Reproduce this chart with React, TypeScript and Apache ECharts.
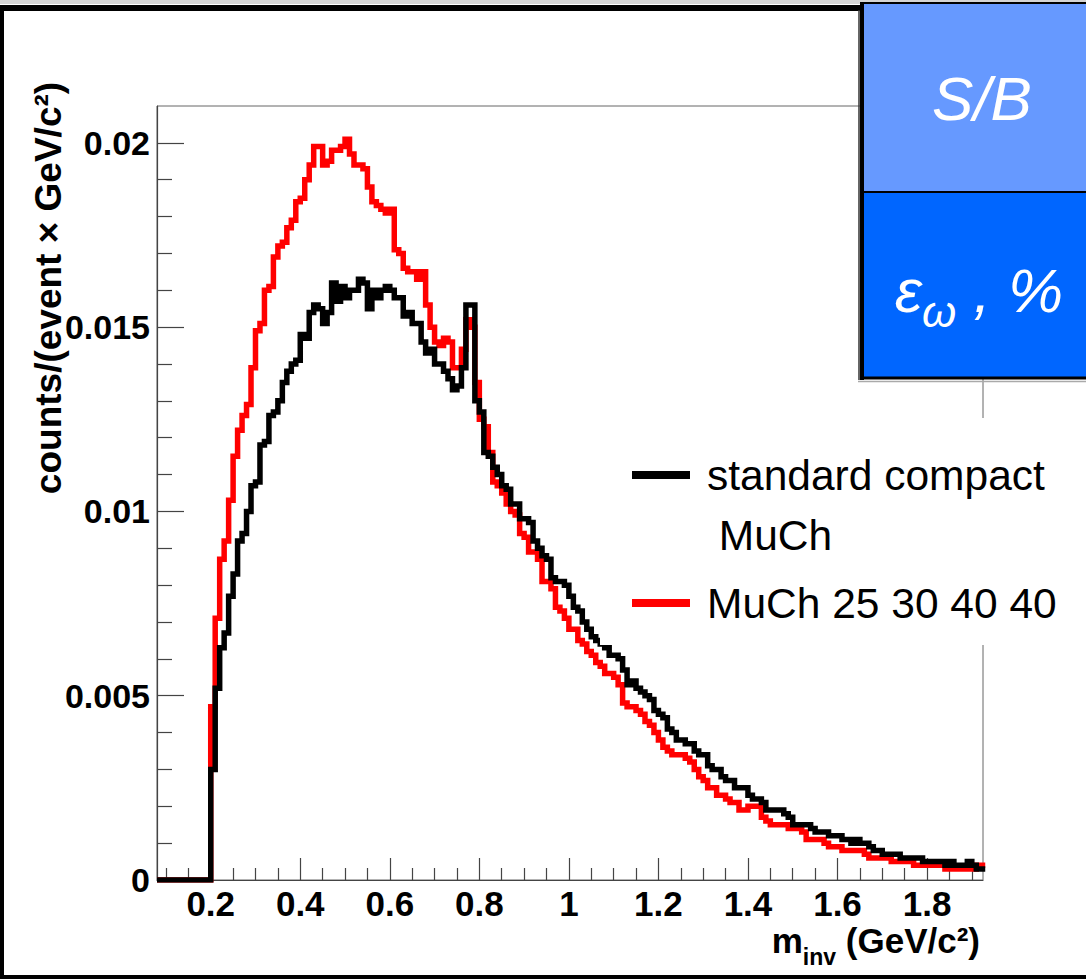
import React, { useEffect, useRef } from "react";
import * as echarts from "echarts";

// ---------------- data ----------------
const BLACK_NAME = "standard compact MuCh";
const RED_NAME = "MuCh 25 30 40 40";

const X_MIN = 0.08;
const X_MAX = 1.925;
const Y_MIN = 0;
const Y_MAX = 0.021;

const BIN_START = 0.2; // first filled bin low edge (GeV/c^2)
const BIN_WIDTH = 0.01;

const X_MAJOR = [0.2, 0.4, 0.6, 0.8, 1.0, 1.2, 1.4, 1.6, 1.8];
const X_LABELS = ["0.2", "0.4", "0.6", "0.8", "1", "1.2", "1.4", "1.6", "1.8"];
const X_MINOR = [0.1, 0.15, 0.25, 0.3, 0.35, 0.45, 0.5, 0.55, 0.65, 0.7, 0.75, 0.85, 0.9, 0.95,
  1.05, 1.1, 1.15, 1.25, 1.3, 1.35, 1.45, 1.5, 1.55, 1.65, 1.7, 1.75, 1.85, 1.9];
const Y_MAJOR = [0, 0.005, 0.01, 0.015, 0.02];
const Y_LABELS = ["0", "0.005", "0.01", "0.015", "0.02"];
const Y_MINOR = [0.001, 0.002, 0.003, 0.004, 0.006, 0.007, 0.008, 0.009, 0.011, 0.012, 0.013, 0.014,
  0.016, 0.017, 0.018, 0.019];

// standard compact MuCh (black), bins 0.20 ... 1.92
const BLACK = [
  0.0030, 0.0052, 0.0063, 0.0067, 0.0077, 0.0083, 0.0092, 0.0094, 0.0100, 0.0107,
  0.0108, 0.0118, 0.0119, 0.0126, 0.0127, 0.0130, 0.0135, 0.0138, 0.0140, 0.0141,
  0.0148, 0.0147, 0.0154, 0.0156, 0.0155, 0.0151, 0.0154, 0.0162, 0.0157, 0.0161,
  0.0158, 0.0160, 0.0160, 0.0163, 0.0162, 0.0155, 0.0160, 0.0158, 0.0160, 0.0161,
  0.0160, 0.0158, 0.0158, 0.0153, 0.0154, 0.0151, 0.0151, 0.0146, 0.0143, 0.0144,
  0.0140, 0.0140, 0.0138, 0.0136, 0.0133, 0.0134, 0.0139, 0.0156, 0.0156, 0.0130,
  0.0127, 0.0116, 0.0115, 0.0112, 0.0110, 0.0107, 0.0106, 0.0102, 0.0102, 0.0098,
  0.0098, 0.0097, 0.0092, 0.0090, 0.0088, 0.0087, 0.0082, 0.0081, 0.0081, 0.0080,
  0.0077, 0.0074, 0.0073, 0.0070, 0.0068, 0.0066, 0.0065, 0.0064, 0.0063, 0.0061,
  0.0061, 0.0060, 0.0057, 0.0053, 0.0054, 0.0052, 0.0051, 0.0050, 0.0049, 0.0046,
  0.0045, 0.0044, 0.0041, 0.0040, 0.0038, 0.0038, 0.0037, 0.0037, 0.0035, 0.0034,
  0.0034, 0.0031, 0.0030, 0.0030, 0.0028, 0.0027, 0.0027, 0.0025, 0.0025, 0.0025,
  0.0023, 0.0022, 0.0022, 0.0021, 0.0019, 0.0019, 0.0019, 0.0019, 0.0018, 0.0017,
  0.0015, 0.0015, 0.0015, 0.0015, 0.0014, 0.0013, 0.0013, 0.0013, 0.0012, 0.0012,
  0.0012, 0.0011, 0.0011, 0.0010, 0.0011, 0.0010, 0.0010, 0.0009, 0.0008, 0.0008,
  0.0007, 0.0007, 0.0007, 0.0007, 0.0006, 0.0006, 0.0006, 0.0006, 0.0006, 0.0005,
  0.0005, 0.0005, 0.0005, 0.0005, 0.0004, 0.0005, 0.0004, 0.0004, 0.0004, 0.0005,
  0.0004, 0.0003, 0.0003,
];

// MuCh 25 30 40 40 (red), bins 0.20 ... 1.92
const RED = [
  0.0047, 0.0071, 0.0087, 0.0092, 0.0103, 0.0115, 0.0122, 0.0126, 0.0129, 0.0139,
  0.0149, 0.0151, 0.0160, 0.0161, 0.0169, 0.0172, 0.0173, 0.0177, 0.0179, 0.0184,
  0.0185, 0.0190, 0.0194, 0.0199, 0.0199, 0.0194, 0.0195, 0.0198, 0.0198, 0.0199,
  0.0201, 0.0197, 0.0194, 0.0194, 0.0193, 0.0188, 0.0184, 0.0183, 0.0182, 0.0181,
  0.0182, 0.0171, 0.0170, 0.0166, 0.0165, 0.0165, 0.0163, 0.0165, 0.0156, 0.0150,
  0.0146, 0.0145, 0.0147, 0.0146, 0.0139, 0.0139, 0.0144, 0.0152, 0.0150, 0.0135,
  0.0125, 0.0123, 0.0116, 0.0108, 0.0107, 0.0105, 0.0102, 0.0100, 0.0099, 0.0094,
  0.0093, 0.0089, 0.0089, 0.0087, 0.0081, 0.0081, 0.0079, 0.0074, 0.0073, 0.0071,
  0.0068, 0.0068, 0.0065, 0.0064, 0.0062, 0.0061, 0.0059, 0.0058, 0.0056, 0.0056,
  0.0055, 0.0053, 0.0048, 0.0047, 0.0047, 0.0046, 0.0045, 0.0043, 0.0042, 0.0040,
  0.0038, 0.0036, 0.0035, 0.0034, 0.0034, 0.0034, 0.0033, 0.0032, 0.0030, 0.0028,
  0.0027, 0.0025, 0.0025, 0.0023, 0.0023, 0.0022, 0.0021, 0.0021, 0.0019, 0.0019,
  0.0020, 0.0020, 0.0020, 0.0017, 0.0016, 0.0015, 0.0015, 0.0015, 0.0015, 0.0014,
  0.0014, 0.0014, 0.0013, 0.0011, 0.0011, 0.0011, 0.0011, 0.0010, 0.0009, 0.0009,
  0.0009, 0.0008, 0.0008, 0.0008, 0.0008, 0.0008, 0.0007, 0.0006, 0.0006, 0.0006,
  0.0006, 0.0006, 0.0005, 0.0005, 0.0005, 0.0005, 0.0005, 0.0004, 0.0004, 0.0004,
  0.0004, 0.0004, 0.0004, 0.0004, 0.0003, 0.0003, 0.0003, 0.0003, 0.0003, 0.0003,
  0.0003, 0.0004, 0.0004,
];

// ---------------- helpers ----------------
const FONT = "'Liberation Sans', Arial, Helvetica, sans-serif";

function toSteps(vals: number[]): [number, number][] {
  const pts: [number, number][] = [[X_MIN, 0]];
  vals.forEach((v, i) => pts.push([+(BIN_START + i * BIN_WIDTH).toFixed(3), v]));
  pts.push([+(BIN_START + vals.length * BIN_WIDTH).toFixed(3), vals[vals.length - 1]]);
  return pts;
}

function lookup(values: number[], labels: string[], v: number): string {
  for (let i = 0; i < values.length; i++) {
    if (Math.abs(values[i] - v) < 1e-9) return labels[i];
  }
  return "";
}

const AXIS_COLOR = "#444";
const LINE_W = 5.5;

function buildOption(): any {
  return {
    animation: false,
    backgroundColor: "#ffffff",
    grid: {
      left: 157,
      top: 106,
      width: 826,
      height: 774,
      show: true,
      borderColor: "#666",
      borderWidth: 1,
      backgroundColor: "transparent",
    },
    xAxis: [
      {
        type: "value",
        min: X_MIN,
        max: X_MAX,
        position: "bottom",
        axisLine: { show: true, onZero: false, lineStyle: { color: AXIS_COLOR, width: 1.2 } },
        axisTick: {
          show: true,
          inside: true,
          length: 22,
          customValues: X_MAJOR,
          lineStyle: { color: AXIS_COLOR, width: 1.2 },
        },
        axisLabel: {
          show: true,
          customValues: X_MAJOR,
          formatter: (v: number) => lookup(X_MAJOR, X_LABELS, v),
          margin: 6,
          fontFamily: FONT,
          fontWeight: "bold",
          fontSize: 35,
          color: "#000",
        },
        splitLine: { show: false },
      },
      {
        type: "value",
        min: X_MIN,
        max: X_MAX,
        position: "bottom",
        axisLine: { show: false },
        axisTick: {
          show: true,
          inside: true,
          length: 12,
          customValues: X_MINOR,
          lineStyle: { color: AXIS_COLOR, width: 1.2 },
        },
        axisLabel: { show: false },
        splitLine: { show: false },
      },
    ],
    yAxis: [
      {
        type: "value",
        min: Y_MIN,
        max: Y_MAX,
        position: "left",
        axisLine: { show: true, onZero: false, lineStyle: { color: AXIS_COLOR, width: 1.2 } },
        axisTick: {
          show: true,
          inside: true,
          length: 27,
          customValues: Y_MAJOR,
          lineStyle: { color: AXIS_COLOR, width: 1.2 },
        },
        axisLabel: {
          show: true,
          customValues: Y_MAJOR,
          formatter: (v: number) => lookup(Y_MAJOR, Y_LABELS, v),
          margin: 7,
          fontFamily: FONT,
          fontWeight: "bold",
          fontSize: 34,
          color: "#000",
        },
        splitLine: { show: false },
      },
      {
        type: "value",
        min: Y_MIN,
        max: Y_MAX,
        position: "left",
        axisLine: { show: false },
        axisTick: {
          show: true,
          inside: true,
          length: 15,
          customValues: Y_MINOR,
          lineStyle: { color: AXIS_COLOR, width: 1.2 },
        },
        axisLabel: { show: false },
        splitLine: { show: false },
      },
    ],
    legend: {
      orient: "vertical",
      left: 632,
      top: 385,
      padding: 0,
      itemGap: 8,
      icon: "rect",
      itemWidth: 58,
      itemHeight: 8,
      selectedMode: false,
      z: 6,
      textStyle: { fontFamily: FONT, fontSize: 42.5, color: "#000", lineHeight: 60, padding: [0, 0, 0, 12] },
      formatter: (name: string) => (name === BLACK_NAME ? " \nstandard compact\n MuCh" : name),
      data: [BLACK_NAME, RED_NAME],
    },
    series: [
      {
        name: RED_NAME,
        type: "line",
        step: "end",
        xAxisIndex: 0,
        yAxisIndex: 0,
        data: toSteps(RED),
        symbol: "none",
        silent: true,
        z: 2,
        itemStyle: { color: "#ff0000" },
        lineStyle: { color: "#ff0000", width: LINE_W, join: "miter", cap: "butt" },
      },
      {
        name: BLACK_NAME,
        type: "line",
        step: "end",
        xAxisIndex: 0,
        yAxisIndex: 0,
        data: toSteps(BLACK),
        symbol: "none",
        silent: true,
        z: 3,
        itemStyle: { color: "#000000" },
        lineStyle: { color: "#000000", width: LINE_W, join: "miter", cap: "butt" },
      },
    ],
    graphic: [
      // white cover behind the legend (hides the right frame)
      { type: "rect", z: 5, silent: true, shape: { x: 600, y: 418, width: 460, height: 227 }, style: { fill: "#ffffff" } },
      // outer slide frame
      { type: "rect", z: 20, silent: true, shape: { x: 0, y: 0, width: 1086, height: 4 }, style: { fill: "#d4d4d4" } },
      { type: "rect", z: 20, silent: true, shape: { x: 0, y: 5, width: 862, height: 6 }, style: { fill: "#000" } },
      { type: "rect", z: 20, silent: true, shape: { x: 0, y: 5, width: 4, height: 974 }, style: { fill: "#000" } },
      { type: "rect", z: 20, silent: true, shape: { x: 0, y: 975, width: 1086, height: 4 }, style: { fill: "#000" } },
      // blue box
      { type: "line", z: 20, silent: true, shape: { x1: 859, y1: 10, x2: 859, y2: 380 }, style: { stroke: "#333", lineWidth: 1.5 } },
      { type: "rect", z: 20, silent: true, shape: { x: 862, y: 3, width: 224, height: 189 }, style: { fill: "#6699ff" } },
      { type: "rect", z: 20, silent: true, shape: { x: 862, y: 192, width: 224, height: 186 }, style: { fill: "#0066ff" } },
      { type: "line", z: 21, silent: true, shape: { x1: 860, y1: 3, x2: 1086, y2: 3 }, style: { stroke: "#000", lineWidth: 2 } },
      { type: "line", z: 21, silent: true, shape: { x1: 862, y1: 2, x2: 862, y2: 380 }, style: { stroke: "#000", lineWidth: 4 } },
      { type: "line", z: 21, silent: true, shape: { x1: 862, y1: 192, x2: 1086, y2: 192 }, style: { stroke: "#000", lineWidth: 2 } },
      { type: "line", z: 21, silent: true, shape: { x1: 860, y1: 378, x2: 1086, y2: 378 }, style: { stroke: "#000", lineWidth: 3 } },
      { type: "line", z: 21, silent: true, shape: { x1: 858, y1: 381.5, x2: 1086, y2: 381.5 }, style: { stroke: "#aaa", lineWidth: 1.5 } },
      {
        type: "text", z: 22, silent: true, x: 982, y: 98,
        style: { text: "S/B", fill: "#fff", font: `italic 62px ${FONT}`, align: "center", verticalAlign: "middle" },
      },
      {
        type: "text", z: 22, silent: true, x: 979, y: 290,
        style: {
          text: "{e|ε}{w|ω}{c| , %}",
          align: "center",
          verticalAlign: "middle",
          rich: {
            e: { fill: "#fff", fontFamily: FONT, fontStyle: "italic", fontSize: 62, lineHeight: 86 },
            w: { fill: "#fff", fontFamily: FONT, fontStyle: "italic", fontSize: 44, lineHeight: 16, verticalAlign: "bottom" },
            c: { fill: "#fff", fontFamily: FONT, fontStyle: "italic", fontSize: 62, lineHeight: 86 },
          },
        },
      },
      // axis titles
      {
        type: "text", z: 10, silent: true, x: 48, y: 288, rotation: Math.PI / 2,
        style: {
          text: "counts/(event × GeV/c²)",
          align: "center",
          verticalAlign: "middle",
          fill: "#000",
          font: `bold 37px ${FONT}`,
        },
      },
      {
        type: "text", z: 10, silent: true, x: 980, y: 940,
        style: {
          text: "{a|m}{s|inv}{a| (GeV/c²)}",
          align: "right",
          verticalAlign: "middle",
          rich: {
            a: { fill: "#000", fontFamily: FONT, fontWeight: "bold", fontSize: 35, lineHeight: 56 },
            s: { fill: "#000", fontFamily: FONT, fontWeight: "bold", fontSize: 23, lineHeight: 6, verticalAlign: "bottom" },
          },
        },
      },
    ],
  };
}

export default function App() {
  const ref = useRef<HTMLDivElement>(null);
  useEffect(() => {
    if (!ref.current) return;
    const chart = echarts.init(ref.current, null, { renderer: "svg" });
    chart.setOption(buildOption());
    return () => chart.dispose();
  }, []);
  return (
    <div
      ref={ref}
      style={{ position: "absolute", left: 0, top: 0, width: 1086, height: 979, background: "#fff" }}
    />
  );
}
